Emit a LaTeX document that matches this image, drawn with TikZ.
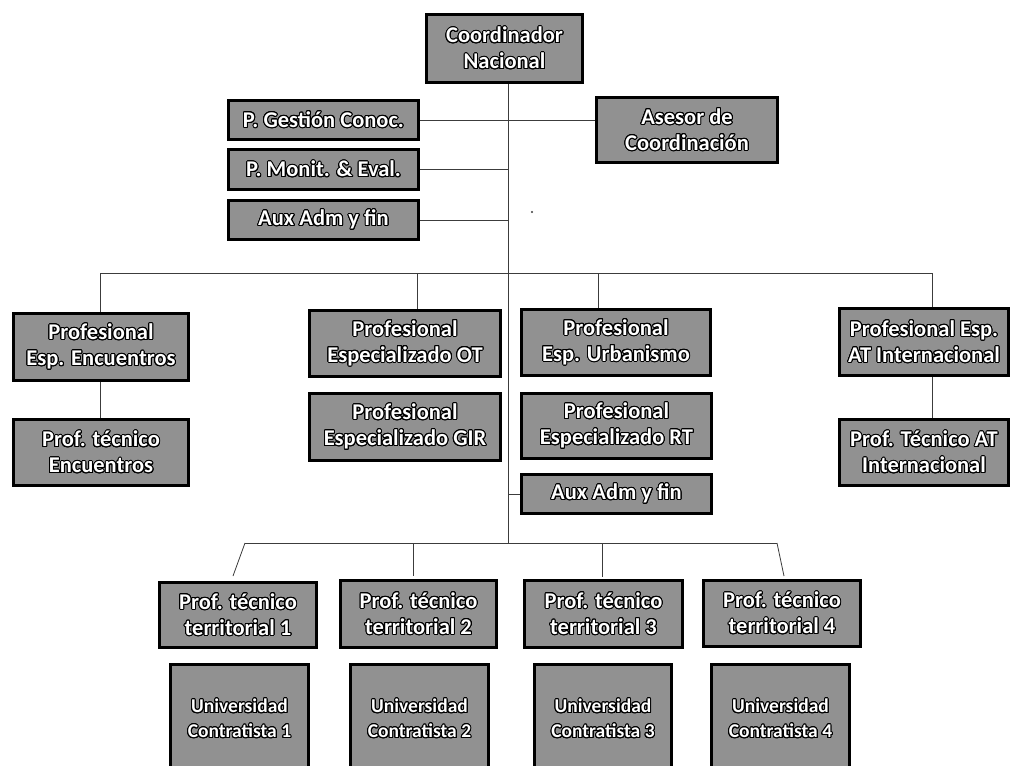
\documentclass[tikz,border=0pt]{standalone}
\usepackage{fontspec}
\setmainfont{Carlito}
\usepackage{contour}
\contourlength{1.0pt}
\contournumber{20}
\newcommand{\bt}[1]{\contour{black}{#1}}
\definecolor{boxgray}{RGB}{145,145,145}
\definecolor{linegray}{RGB}{60,60,60}
\tikzset{
  orgbox/.style={draw=black, line width=3pt, fill=boxgray, text=white,
    font=\bfseries\fontsize{22.5}{26}\selectfont, align=center, inner sep=0pt},
  unibox/.style={orgbox, font=\bfseries\fontsize{19.5}{25}\selectfont},
  conn/.style={draw=linegray, line width=0.8pt}
}
\begin{document}
\begin{tikzpicture}[x=1pt,y=-1pt]
\useasboundingbox (0,0) rectangle (1013,766);
\clip (0,0) rectangle (1013,766);
\fill[white] (0,0) rectangle (1013,766);

% nodes
\node[orgbox, minimum width=156pt, minimum height=68pt] (cn) at (504.5,48.5) {\bt{Coordinador}\\\bt{Nacional}};
\node[orgbox, minimum width=190pt, minimum height=39pt] (pg) at (323.5,120) {\bt{P. Gestión Conoc.}};
\node[orgbox, minimum width=190pt, minimum height=40pt] (pm) at (323.5,169.5) {\bt{P. Monit. \& Eval.}};
\node[orgbox, minimum width=190pt, minimum height=39pt] (ax1) at (323.5,220) {\bt{Aux Adm y fin}};
\node[orgbox, minimum width=181pt, minimum height=65pt] (as) at (687,130) {\bt{Asesor de}\\\bt{Coordinación}};

\node[orgbox, minimum width=175pt, minimum height=67pt] (pe) at (101,347) {\bt{Profesional}\\\bt{Esp. Encuentros}};
\node[orgbox, minimum width=175pt, minimum height=66pt] (pte) at (101,452.5) {\bt{Prof. técnico}\\\bt{Encuentros}};
\node[orgbox, minimum width=191pt, minimum height=66pt] (ot) at (405,343.5) {\bt{Profesional}\\\bt{Especializado OT}};
\node[orgbox, minimum width=191pt, minimum height=67pt] (gir) at (405,427) {\bt{Profesional}\\\bt{Especializado GIR}};
\node[orgbox, minimum width=189pt, minimum height=66pt] (urb) at (616,342.5) {\bt{Profesional}\\\bt{Esp. Urbanismo}};
\node[orgbox, minimum width=190pt, minimum height=65pt] (rt) at (616.5,426) {\bt{Profesional}\\\bt{Especializado RT}};
\node[orgbox, minimum width=190pt, minimum height=39pt] (ax2) at (616.5,494) {\bt{Aux Adm y fin}};
\node[orgbox, minimum width=169pt, minimum height=67pt] (at) at (924,342) {\bt{Profesional Esp.}\\\bt{AT Internacional}};
\node[orgbox, minimum width=169pt, minimum height=66pt] (ati) at (924,452.5) {\bt{Prof. Técnico AT}\\\bt{Internacional}};

\node[orgbox, minimum width=157pt, minimum height=65pt] (t1) at (238,615) {\bt{Prof. técnico}\\\bt{territorial 1}};
\node[orgbox, minimum width=156pt, minimum height=67pt] (t2) at (418.5,614) {\bt{Prof. técnico}\\\bt{territorial 2}};
\node[orgbox, minimum width=158pt, minimum height=67pt] (t3) at (603.5,614) {\bt{Prof. técnico}\\\bt{territorial 3}};
\node[orgbox, minimum width=157pt, minimum height=66pt] (t4) at (782,613.5) {\bt{Prof. técnico}\\\bt{territorial 4}};

\node[unibox, minimum width=138pt, minimum height=109pt] (u1) at (239.5,719) {\bt{Universidad}\\\bt{Contratista 1}};
\node[unibox, minimum width=138pt, minimum height=109pt] (u2) at (419.5,719) {\bt{Universidad}\\\bt{Contratista 2}};
\node[unibox, minimum width=137pt, minimum height=109pt] (u3) at (603,719) {\bt{Universidad}\\\bt{Contratista 3}};
\node[unibox, minimum width=138pt, minimum height=109pt] (u4) at (780.5,719) {\bt{Universidad}\\\bt{Contratista 4}};

% connector coordinates
\coordinate (spine) at (508,0);
\coordinate (topbus) at (508,273);
\coordinate (botbus) at (508,543);
\coordinate (tbL) at (100,273);
\coordinate (tbOT) at (417,273);
\coordinate (tbU) at (598,273);
\coordinate (tbR) at (932,273);
\coordinate (bbL) at (245,543);
\coordinate (bb2) at (413,543);
\coordinate (bb3) at (602,543);
\coordinate (bbR) at (777,543);
\coordinate (e1) at (233,576);
\coordinate (e2) at (413,576);
\coordinate (e3) at (602,577);
\coordinate (e4) at (784,576);

% connectors
\draw[conn] (cn.south -| spine) -- (botbus);
\draw[conn] (pg.east) -- (pg.east -| as.west);
\draw[conn] (pm.east) -- (pm.east -| spine);
\draw[conn] (ax1.east) -- (ax1.east -| spine);
\draw[conn] (tbL) -- (tbR);
\draw[conn] (tbL) -- (tbL |- pe.north);
\draw[conn] (tbOT) -- (tbOT |- ot.north);
\draw[conn] (tbU) -- (tbU |- urb.north);
\draw[conn] (tbR) -- (tbR |- at.north);
\draw[conn] (pe.south -| tbL) -- (pte.north -| tbL);
\draw[conn] (at.south -| tbR) -- (ati.north -| tbR);
\draw[conn] (ax2.west) -- (ax2.west -| spine);
\draw[conn] (bbL) -- (bbR);
\draw[conn] (bbL) -- (e1);
\draw[conn] (bb2) -- (e2);
\draw[conn] (bb3) -- (e3);
\draw[conn] (bbR) -- (e4);

% stray dot
\fill[linegray] (532,212) circle (1.2pt);
\end{tikzpicture}
\end{document}
